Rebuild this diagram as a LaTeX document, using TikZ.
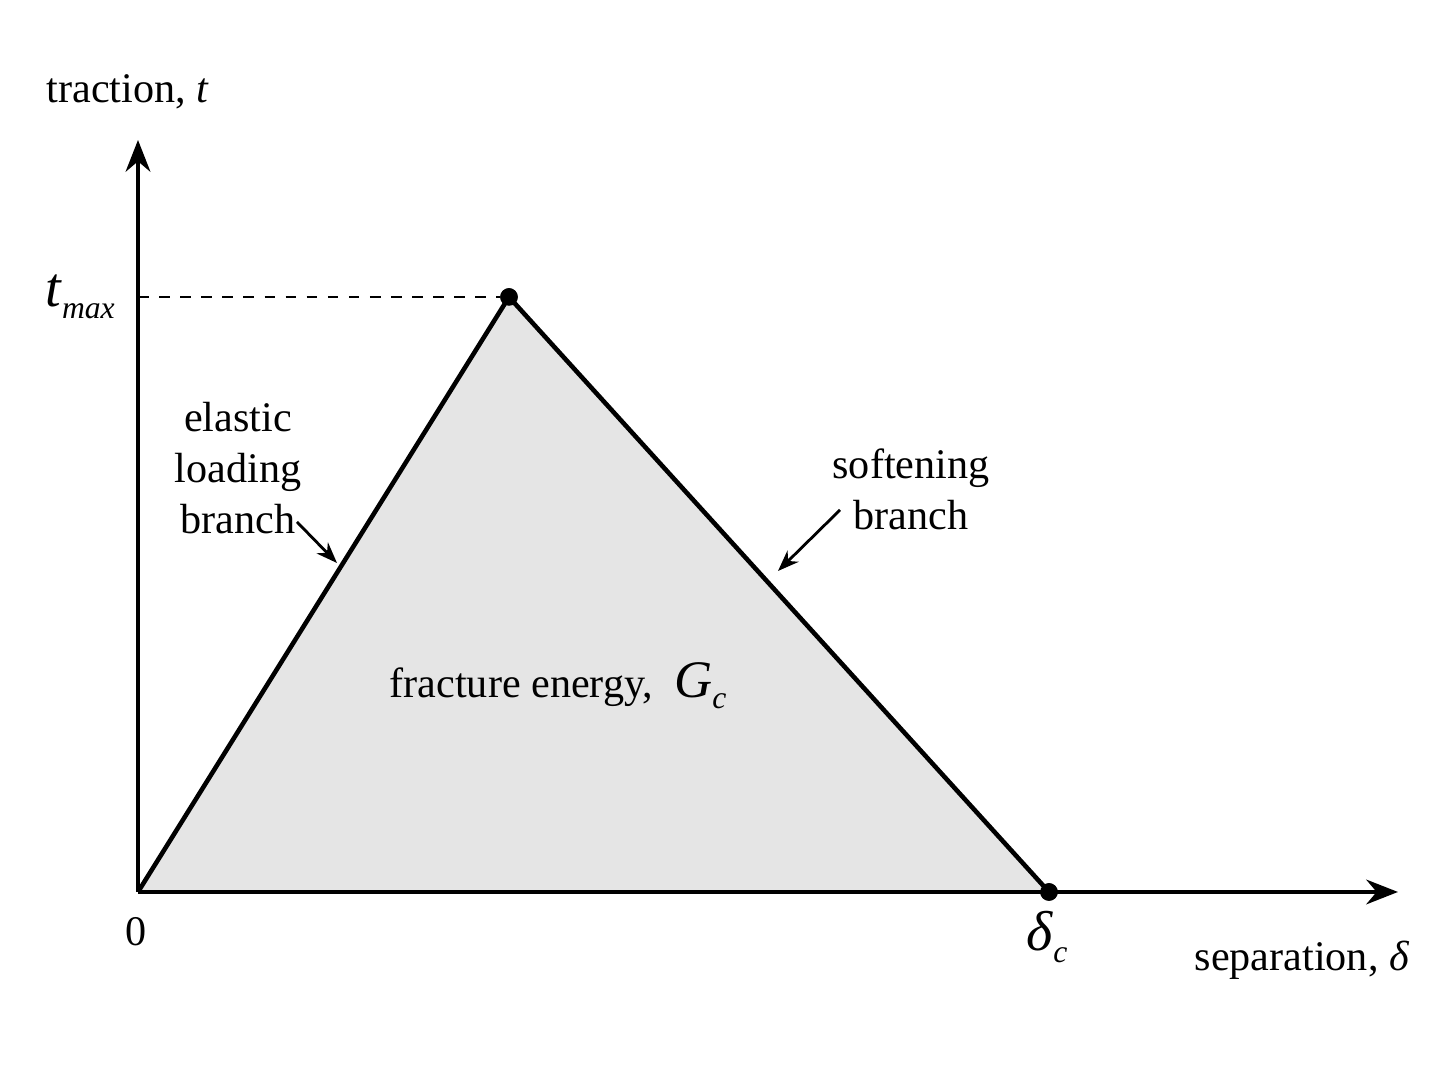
\documentclass[tikz,border=0pt]{standalone}
\usepackage{fontspec}
\setmainfont{Liberation Serif}
\usetikzlibrary{arrows.meta}
\newcommand{\subs}[1]{\raisebox{-0.45ex}{\fontsize{9}{10}\selectfont\itshape #1}}
\begin{document}
\begin{tikzpicture}[font=\fontsize{12}{14.5}\selectfont,
  ax/.style={line width=1.3pt,-{Stealth[length=9pt,width=7pt]}},
  lbl/.style={inner sep=0pt,align=center},
  ptr/.style={line width=0.8pt,-{Stealth[length=6pt,width=4.5pt]}},
  dot/.style={circle,fill=black,inner sep=0pt,minimum size=5pt}]
\useasboundingbox (0,0) rectangle (14.48,10.86);
\coordinate (O) at (1.38,1.94);
\coordinate (Ytop) at (1.38,9.46);
\coordinate (Xend) at (13.98,1.94);
\coordinate (Ym) at (1.38,7.89);
\node[dot] (P) at (5.09,7.89) {};
\node[dot] (D) at (10.49,1.94) {};
\fill[gray!20] (O) -- (P.center) -- (D.center) -- cycle;
\draw[line width=1.3pt,line join=round] (O) -- (P.center) -- (D.center);
\draw[dashed,line width=0.8pt] (Ym) -- (P);
\draw[ax] (O) -- (Ytop);
\draw[ax] (O) -- (Xend);
\node[dot] at (P.center) {};
\node[dot] at (D.center) {};
\node[lbl] (ty) at (1.28,9.94) {traction, \textit{t}};
\node[lbl,font=\fontsize{16}{18}\selectfont] (tm) at (0.8,7.89) {\textit{t}\subs{max}};
\node[lbl] (zero) at (1.36,1.54) {0};
\node[lbl,font=\fontsize{16}{18}\selectfont] (dc) at (10.47,1.49) {\textit{δ}\subs{c}};
\node[lbl] (sx) at (13.02,1.26) {separation, \textit{δ}};
\node[lbl] (el) at (2.38,6.18) {elastic\\loading\\branch};
\coordinate (ea) at (2.97,5.64); \coordinate (eb) at (3.37,5.23);
\draw[ptr] (ea) -- (eb);
\node[lbl] (sb) at (9.11,5.97) {softening\\branch};
\coordinate (sa) at (8.40,5.76); \coordinate (sbb) at (7.78,5.15);
\draw[ptr] (sa) -- (sbb);
\node[lbl] (fe) at (5.58,4.0) {fracture energy,\enspace {\fontsize{15}{17}\selectfont\textit{G}\subs{c}}};
\end{tikzpicture}
\end{document}
